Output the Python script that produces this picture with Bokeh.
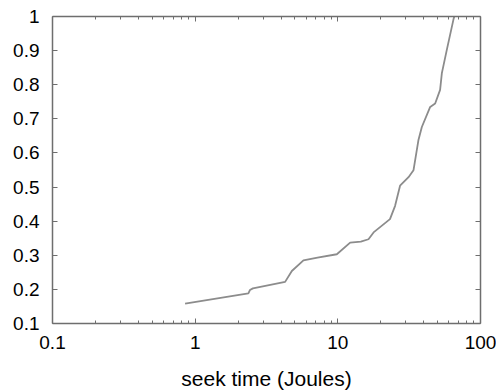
from bokeh.plotting import figure
from bokeh.models import LogAxis, LinearAxis, FixedTicker, Range1d
from bokeh.embed import file_html
from bokeh.resources import INLINE

# data
seek_time = [0.85, 2.36, 2.42, 2.54, 4.27, 4.76, 5.74, 7.2, 9.84, 12.2, 14.5, 16.4,
             17.8, 23.2, 25.2, 27.3, 31.3, 33.9, 36.7, 38.8, 44.4, 48.1, 52.1,
             53.6, 58.1, 64.6, 65.5]
cdf = [0.158, 0.188, 0.198, 0.203, 0.222, 0.254, 0.285, 0.293, 0.303, 0.337, 0.340,
       0.347, 0.367, 0.406, 0.445, 0.504, 0.529, 0.549, 0.637, 0.676, 0.735,
       0.745, 0.785, 0.834, 0.903, 0.991, 1.0]

x_ticks = [0.1, 1, 10, 100]
x_tick_labels = ["0.1", "1", "10", "100"]
x_minor = [m * d for d in [0.1, 1, 10] for m in range(2, 10)]
y_ticks = [0.1, 0.2, 0.3, 0.4, 0.5, 0.6, 0.7, 0.8, 0.9, 1.0]
y_tick_labels = ["0.1", "0.2", "0.3", "0.4", "0.5", "0.6", "0.7", "0.8", "0.9", "1"]
x_label = "seek time (Joules)"

FONT = "Liberation Sans"
AX = "#6e6e6e"

p = figure(width=496, height=392, x_axis_type="log", output_backend="svg",
           toolbar_location=None, x_range=Range1d(0.1, 100), y_range=Range1d(0.1, 1.0),
           min_border_left=52, min_border_right=16, min_border_top=16, min_border_bottom=69)
p.outline_line_color = None
p.grid.visible = False
p.background_fill_color = "white"
p.border_fill_color = "white"

p.line(seek_time, cdf, line_color="#8c8c8c", line_width=1.8)

xt = FixedTicker(ticks=x_ticks, minor_ticks=x_minor)
yt = FixedTicker(ticks=y_ticks, minor_ticks=[])

def style(ax):
    ax.axis_line_color = AX
    ax.axis_line_width = 1.5
    ax.major_tick_line_color = AX
    ax.minor_tick_line_color = AX
    ax.major_tick_in = 5
    ax.major_tick_out = 0
    ax.minor_tick_in = 3
    ax.minor_tick_out = 0
    ax.major_label_text_font = FONT
    ax.major_label_text_font_size = "19px"
    ax.major_label_text_color = "black"

xa = p.xaxis[0]
xa.ticker = xt
xa.major_label_overrides = {t: l for t, l in zip(x_ticks, x_tick_labels)}
style(xa)
xa.major_label_standoff = 12
xa.axis_label = x_label
xa.axis_label_text_font = FONT
xa.axis_label_text_font_size = "21px"
xa.axis_label_text_font_style = "normal"
xa.axis_label_text_color = "black"
xa.axis_label_standoff = 15

ya = p.yaxis[0]
ya.ticker = yt
ya.major_label_overrides = {t: l for t, l in zip(y_ticks, y_tick_labels)}
style(ya)
ya.major_label_standoff = 13

top = LogAxis(ticker=FixedTicker(ticks=x_ticks, minor_ticks=x_minor))
style(top)
top.major_label_text_font_size = "2px"
top.major_label_text_alpha = 0
top.major_label_standoff = 0
p.add_layout(top, "above")

right = LinearAxis(ticker=FixedTicker(ticks=y_ticks, minor_ticks=[]))
style(right)
right.major_label_text_font_size = "2px"
right.major_label_text_alpha = 0
right.major_label_standoff = 0
p.add_layout(right, "right")

open("out.html", "w").write(file_html(p, INLINE))
